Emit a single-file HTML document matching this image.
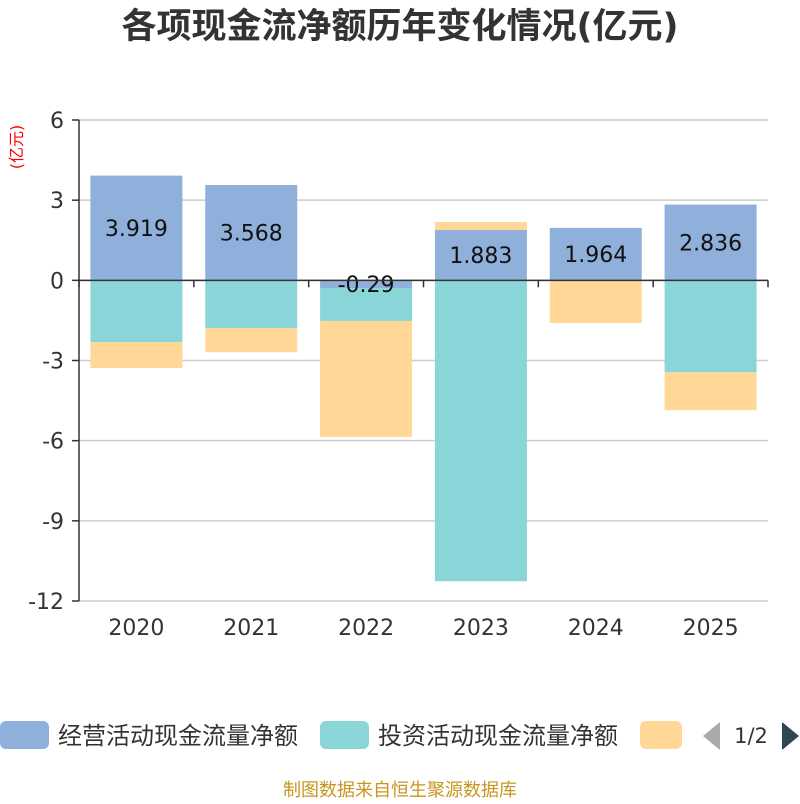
<!DOCTYPE html>
<html><head><meta charset="utf-8"><style>
body{margin:0;background:#fff;font-family:"DejaVu Sans","Noto Sans CJK SC",sans-serif}
</style></head><body>
<svg id="c" width="800" height="800" xmlns="http://www.w3.org/2000/svg" font-family="DejaVu Sans, Noto Sans CJK SC, sans-serif">
<text x="400" y="38" text-anchor="middle" font-size="35" font-weight="bold" fill="#333">各项现金流净额历年变化情况(亿元)</text>
<text transform="translate(22,147) rotate(-90)" text-anchor="middle" font-size="16" fill="red">(亿元)</text>
<g id="grid"></g><g id="bars"></g><g id="axes"></g>
<g>
<rect x="0" y="721" width="49" height="28" rx="6" fill="#8eb0db"/>
<text x="58" y="744" font-size="24" fill="#333">经营活动现金流量净额</text>
<rect x="320" y="721" width="49" height="28" rx="6" fill="#89d5d7"/>
<text x="378" y="744" font-size="24" fill="#333">投资活动现金流量净额</text>
<rect x="640" y="721" width="42" height="28" rx="6" fill="#ffd897"/>
<polygon points="720,722 720,750 703,736" fill="#aaa"/>
<text x="751" y="743" text-anchor="middle" font-size="21" fill="#333">1/2</text>
<polygon points="782,722 782,750 799,736" fill="#2f4554"/>
</g>
<text x="400" y="796" text-anchor="middle" font-size="18" fill="#c8961e">制图数据来自恒生聚源数据库</text>
</svg>
<script>
const categories=["2020","2021","2022","2023","2024","2025"];
const operating=[3.919,3.568,-0.29,1.883,1.964,2.836];
const investing=[-2.31,-1.79,-1.23,-11.26,0,-3.44];
const financing=[-0.97,-0.9,-4.34,0.3,-1.6,-1.42];
const yTicks=[6,3,0,-3,-6,-9,-12];
const NS="http://www.w3.org/2000/svg";
const x0=79,x1=768,yTop=120,yBot=601,vMax=6,vMin=-12;
const y=v=>yTop+(vMax-v)/(vMax-vMin)*(yBot-yTop);
const band=(x1-x0)/categories.length,bw=92;
function mk(tag,attrs,parent){const e=document.createElementNS(NS,tag);for(const k in attrs)e.setAttribute(k,attrs[k]);document.getElementById(parent).appendChild(e);return e;}
yTicks.forEach(t=>{
 const l=mk('line',{x1:x0,x2:x1,y1:y(t),y2:y(t),stroke:'#ccc','stroke-width':1.5},'grid');
 
 
 const tk=mk('line',{x1:x0-7,x2:x0,y1:y(t),y2:y(t),stroke:'#333','stroke-width':1.5},'axes');
 
 
 const tx=mk('text',{x:x0-15,y:y(t)+8,'text-anchor':'end','font-size':22,fill:'#333'},'axes');
 tx.textContent=t;
 
 
});
const ya=mk('line',{x1:x0,x2:x0,y1:yTop,y2:yBot,stroke:'#333','stroke-width':1.5},'axes');


const xa=mk('line',{x1:x0,x2:x1,y1:y(0),y2:y(0),stroke:'#333','stroke-width':1.5},'axes');


for(let i=0;i<=categories.length;i++){
 const t=mk('line',{x1:x0+i*band,x2:x0+i*band,y1:y(0),y2:y(0)+7,stroke:'#333','stroke-width':1.5},'axes');
 
 
}
const series=[[operating,'#8eb0db','operating'],[investing,'#89d5d7','investing'],[financing,'#ffd897','financing']];
categories.forEach((c,i)=>{
 const cx=x0+band*(i+0.5);let pos=0,neg=0;
 series.forEach(([arr,col,nm])=>{
  const v=arr[i];let a,b;
  if(v>=0){a=pos;b=pos+v;pos=b;}else{a=neg;b=neg+v;neg=b;}
  const r=mk('rect',{x:cx-bw/2,y:Math.min(y(a),y(b)),width:bw,height:Math.abs(y(a)-y(b)),fill:col},'bars');
  
  
 });
 const v=operating[i];
 const lt=mk('text',{x:cx,y:(y(0)+y(v))/2+8,'text-anchor':'middle','font-size':22,fill:'#111'},'bars');
 lt.textContent=v;
 
 
 const xl=mk('text',{x:cx,y:635,'text-anchor':'middle','font-size':22,fill:'#333'},'axes');
 xl.textContent=c;
 
 
});
</script>
</body></html>
